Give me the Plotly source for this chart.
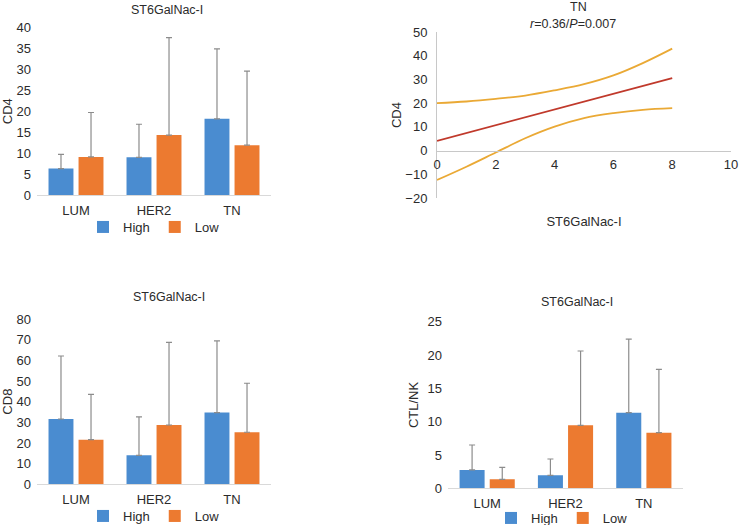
import plotly.graph_objects as go

# ---------------- data ----------------
categories = ["LUM", "HER2", "TN"]
series_names = ["High", "Low"]

cd4_high = [6.3, 9.0, 18.2]
cd4_high_err = [3.4, 7.9, 16.7]
cd4_low = [9.1, 14.3, 11.9]
cd4_low_err = [10.6, 23.3, 17.7]

cd8_high = [31.6, 14.0, 34.7]
cd8_high_err = [30.5, 18.6, 34.7]
cd8_low = [21.6, 28.7, 25.2]
cd8_low_err = [21.9, 40.0, 23.7]

ctl_high = [2.75, 1.95, 11.35]
ctl_high_err = [3.75, 2.45, 11.05]
ctl_low = [1.35, 9.45, 8.35]
ctl_low_err = [1.8, 11.15, 9.5]

# TN correlation panel (ST6GalNac-I vs CD4)
reg_x = [0, 8]
reg_fit = [4.1, 30.6]
ci_x = [0, 1, 2, 3, 4, 5, 6, 7, 8]
ci_upper = [20.0, 20.7, 21.8, 23.2, 25.4, 28.0, 31.7, 36.9, 43.0]
ci_lower = [-12.4, -6.8, -0.8, 5.2, 10.1, 13.7, 15.8, 17.2, 17.9]

# ---------------- style ----------------
W, H = 739, 525
BLUE = "#4A8CD0"
ORANGE = "#EC7A30"
ERR = "#8C8C8C"
TXT = "#2b2b2b"
FONT = "Liberation Sans, Arial, sans-serif"


def px_x(p):
    return p / W


def px_y(p):
    return 1 - p / H


fig = go.Figure()


def add_bars(xa, ya, high, high_err, low, low_err, legend):
    for name, vals, errs, col in [(series_names[0], high, high_err, BLUE),
                                  (series_names[1], low, low_err, ORANGE)]:
        fig.add_trace(go.Bar(
            x=categories, y=vals, name=name, xaxis=xa, yaxis=ya,
            marker=dict(color=col, line=dict(width=0)),
            error_y=dict(type="data", symmetric=False, array=errs,
                         arrayminus=[0] * len(errs), color=ERR, thickness=1.2, width=3),
            legend=legend, showlegend=True,
        ))


add_bars("x", "y", cd4_high, cd4_high_err, cd4_low, cd4_low_err, "legend")
add_bars("x3", "y3", cd8_high, cd8_high_err, cd8_low, cd8_low_err, "legend2")
add_bars("x4", "y4", ctl_high, ctl_high_err, ctl_low, ctl_low_err, "legend3")

GOLD = "#EAA935"
RED = "#C0392B"
fig.add_trace(go.Scatter(x=ci_x, y=ci_upper, mode="lines", xaxis="x2", yaxis="y2",
                         line=dict(color=GOLD, width=1.8, shape="spline"), showlegend=False))
fig.add_trace(go.Scatter(x=ci_x, y=ci_lower, mode="lines", xaxis="x2", yaxis="y2",
                         line=dict(color=GOLD, width=1.8, shape="spline"), showlegend=False))
fig.add_trace(go.Scatter(x=reg_x, y=reg_fit, mode="lines", xaxis="x2", yaxis="y2",
                         line=dict(color=RED, width=1.8), showlegend=False))

tickfont = dict(family=FONT, size=13, color=TXT)
titlefont = dict(family=FONT, size=13, color=TXT)

cat_axis = dict(type="category", showgrid=False, zeroline=False, showline=True,
                linecolor="#D9D9D9", linewidth=1, ticks="", tickfont=tickfont,
                ticklabelstandoff=3)
val_axis = dict(showgrid=False, zeroline=False, showline=False, ticks="",
                tickfont=tickfont, ticklabelstandoff=5)

# domains (pixel based)
tl_x = [px_x(37), px_x(271)]
tl_y = [px_y(195), px_y(27.5)]
bl_x = [px_x(37), px_x(271)]
bl_y = [px_y(484.3), px_y(319)]
br_x = [px_x(448), px_x(683)]
br_y = [px_y(488.3), px_y(321.7)]
tr_x = [px_x(437), px_x(731)]
tr_y = [px_y(198), px_y(32)]
tr_yrange = [-20, 50]
zero_pos = tr_y[0] + (0 - tr_yrange[0]) / (tr_yrange[1] - tr_yrange[0]) * (tr_y[1] - tr_y[0])

legend_style = dict(orientation="h", xanchor="center", yanchor="middle",
                    font=dict(family=FONT, size=13, color=TXT), bgcolor="rgba(0,0,0,0)")


def label(text, x, y, size=12.5):
    return dict(text=text, x=px_x(x), y=px_y(y), xref="paper", yref="paper",
                xanchor="center", yanchor="middle", showarrow=False,
                font=dict(family=FONT, size=size, color=TXT))


fig.update_layout(
    width=W, height=H,
    margin=dict(l=0, r=0, t=0, b=0, autoexpand=False),
    paper_bgcolor="white", plot_bgcolor="white",
    font=dict(family=FONT, color=TXT),
    barmode="group", bargap=0.23, bargroupgap=0.17,
    xaxis=dict(cat_axis, domain=tl_x, anchor="y"),
    yaxis=dict(val_axis, domain=tl_y, anchor="x", range=[0, 40], dtick=5,
               title=dict(text="CD4", font=titlefont, standoff=4)),
    xaxis3=dict(cat_axis, domain=bl_x, anchor="y3"),
    yaxis3=dict(val_axis, domain=bl_y, anchor="x3", range=[0, 80], dtick=10,
                title=dict(text="CD8", font=titlefont, standoff=4)),
    xaxis4=dict(cat_axis, domain=br_x, anchor="y4"),
    yaxis4=dict(val_axis, domain=br_y, anchor="x4", range=[0, 25], dtick=5,
                title=dict(text="CTL/NK", font=titlefont, standoff=5)),
    xaxis2=dict(domain=tr_x, anchor="free", position=zero_pos, range=[0, 10], dtick=2,
                showgrid=False, zeroline=False, showline=True, linecolor="#C8C8C8",
                ticks="", tickfont=tickfont, ticklabelstandoff=2,
                title=dict(text="ST6GalNac-I", font=titlefont, standoff=45)),
    yaxis2=dict(domain=tr_y, anchor="x2", range=tr_yrange, dtick=10,
                showgrid=False, zeroline=False, showline=True, linecolor="#C8C8C8",
                ticks="", tickfont=tickfont, ticklabelstandoff=6,
                title=dict(text="CD4", font=titlefont, standoff=0)),
    legend=dict(legend_style, x=px_x(154), y=px_y(227)),
    legend2=dict(legend_style, x=px_x(154), y=px_y(516)),
    legend3=dict(legend_style, x=px_x(562), y=px_y(518)),
    annotations=[
        label("ST6GalNac-I", 167, 10),
        label("ST6GalNac-I", 169, 297),
        label("ST6GalNac-I", 577, 302),
        label("TN", 578, 7),
        label("<i>r</i>=0.36/<i>P</i>=0.007", 573, 24),
    ],
)

fig.write_html("out.html", config={"displayModeBar": False},
               post_script="document.body.style.margin='0';")
